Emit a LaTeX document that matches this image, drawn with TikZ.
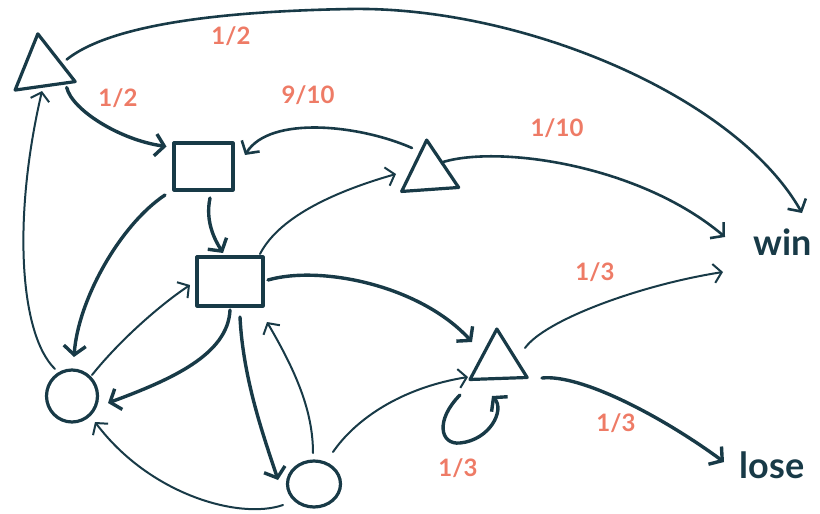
\documentclass[tikz,border=0pt]{standalone}
\usepackage{fontspec}
\setmainfont{Lato}
\usetikzlibrary{shapes.geometric,arrows.meta,calc}
\definecolor{ink}{HTML}{183A47}
\definecolor{sal}{HTML}{EE7B66}
\begin{document}
\begin{tikzpicture}[x=1pt,y=-1pt,
  shp/.style={draw=ink,line width=3.2pt,line join=round,line cap=round,inner sep=0pt,outer sep=0pt},
  tri/.style={shp,regular polygon,regular polygon sides=3},
  box/.style={shp,rectangle},
  rnd/.style={shp,ellipse},
  lab/.style={text=sal,font=\bfseries\fontsize{24}{24}\selectfont,inner sep=0pt},
  word/.style={text=ink,font=\bfseries\fontsize{36}{36}\selectfont,inner sep=0pt},
  thinarr/.style={draw=ink,line width=2pt,line cap=round,line join=round,-{Straight Barb[length=8pt,width=19pt]}},
  midarr/.style={draw=ink,line width=2.6pt,line cap=round,line join=round,-{Straight Barb[length=9pt,width=21pt]}},
  thickarr/.style={draw=ink,line width=3.4pt,line cap=round,line join=round,-{Straight Barb[length=9pt,width=22pt]}}]
\useasboundingbox (0,0) rectangle (820,514);
% nodes
\node[tri,minimum size=70pt,rotate=8] (T1) at (42.7,68.5) {};
\node[tri,minimum size=66pt,rotate=4] (T2) at (429,173) {};
\node[tri,minimum size=66pt,rotate=2] (T3) at (498,362) {};
\node[box,minimum width=59pt,minimum height=47pt] (S1) at (203.5,166.5) {};
\node[box,minimum width=66pt,minimum height=49pt] (S2) at (230,281.5) {};
\node[rnd,minimum width=51pt,minimum height=52pt] (C1) at (72,396) {};
\node[rnd,minimum width=53pt,minimum height=46pt] (C2) at (314,484) {};
\node[word] (win) at (783,242) {win};
\node[word] (lose) at (772,465) {lose};
% labels
\node[lab] (l1) at (231,36) {1/2};
\node[lab] (l2) at (118,98) {1/2};
\node[lab] (l3) at (308,95) {9/10};
\node[lab] (l4) at (557,128) {1/10};
\node[lab] (l5) at (595,272) {1/3};
\node[lab] (l6) at (616,423) {1/3};
\node[lab] (l7) at (458,468) {1/3};
% edges
\draw[midarr] ($(T1)+(24,-9)$) .. controls (100,33) and (180,12) .. (350,9)
   .. controls (520,6) and (735,95) .. ($(win)+(19,-29)$);
\draw[thickarr] ($(T1)+(24,19)$) .. controls (72,110) and (120,140) .. ($(S1)+(-37,-20)$);
\draw[midarr] ($(T2)+(-17,-25)$) .. controls (360,125) and (270,115) .. ($(S1)+(41.5,-11.5)$);
\draw[midarr] ($(T2)+(14,-11)$) .. controls (500,145) and (640,165) .. ($(win)+(-58,-5)$);
\draw[thinarr] ($(S2)+(30,-27.5)$) .. controls (280,215) and (340,190) .. ($(T2)+(-33,1)$);
\draw[thickarr] ($(S1)+(6.5,31.5)$) .. controls (205,222) and (215,240) .. ($(S2)+(-7,-28.5)$);
\draw[thickarr] ($(S1)+(-38.5,28.5)$) .. controls (120,225) and (78,300) .. ($(C1)+(2,-39)$);
\draw[thinarr] ($(C1)+(-17,-27)$) .. controls (20,335) and (12,220) .. ($(T1)+(-0.7,22.5)$);
\draw[thinarr] ($(C1)+(20,-21)$) .. controls (120,340) and (160,305) .. ($(S2)+(-40,3.5)$);
\draw[thickarr] ($(S2)+(0,28.5)$) .. controls (228,355) and (170,380) .. ($(C1)+(36,7)$);
\draw[thickarr] ($(S2)+(10,35.5)$) .. controls (243,380) and (265,440) .. ($(C2)+(-36,-4)$);
\draw[thinarr] ($(C2)+(-1,-31)$) .. controls (313,410) and (295,370) .. ($(S2)+(37,40.5)$);
\draw[thinarr] ($(C2)+(-31,21)$) .. controls (240,520) and (150,495) .. ($(C1)+(23,26)$);
\draw[thinarr] ($(C2)+(19,-32)$) .. controls (355,420) and (400,388) .. ($(T3)+(-30,15)$);
\draw[thickarr] ($(S2)+(38,-1.5)$) .. controls (320,265) and (420,285) .. ($(T3)+(-26,-20)$);
\draw[thinarr] ($(T3)+(27,-14)$) .. controls (545,320) and (640,285) .. ($(win)+(-60,30)$);
\draw[thickarr] ($(T3)+(44,16)$) .. controls (580,374) and (660,415) .. ($(lose)+(-48,-3)$);
\draw[thickarr] ($(T3)+(-38,33)$) .. controls (435,420) and (440,445) .. (460,443)
   .. controls (490,440) and (505,410) .. ($(T3)+(-6,34)$);
\end{tikzpicture}
\end{document}
